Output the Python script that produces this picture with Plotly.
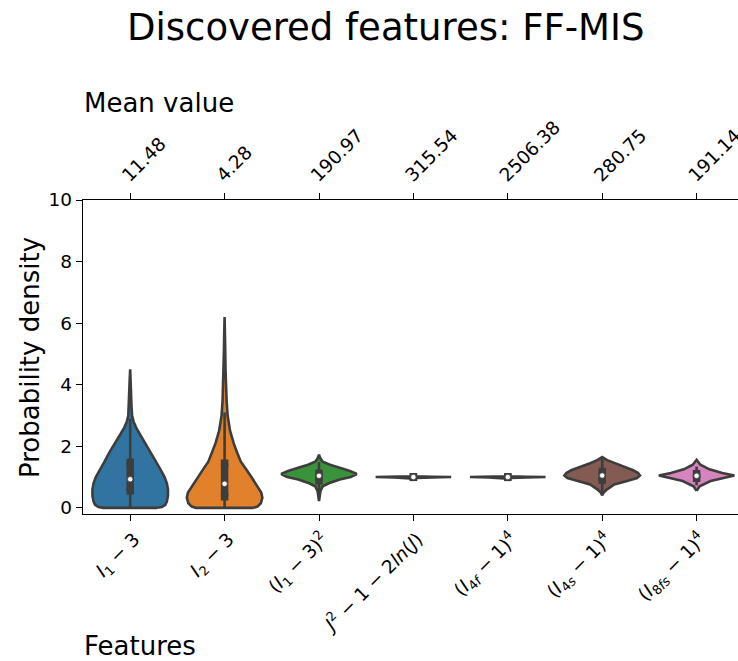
import plotly.graph_objects as go

# ---- data -------------------------------------------------------------
features = [
    "<i>I</i><sub>1</sub> − 3",
    "<i>I</i><sub>2</sub> − 3",
    "(<i>I</i><sub>1</sub> − 3)<sup>2</sup>",
    "<i>J</i><sup>2</sup> − 1 − 2<i>ln</i>(<i>J</i>)",
    "(<i>I</i><sub>4<i>f</i></sub> − 1)<sup>4</sup>",
    "(<i>I</i><sub>4<i>s</i></sub> − 1)<sup>4</sup>",
    "(<i>I</i><sub>8<i>fs</i></sub> − 1)<sup>4</sup>",
]
mean_values = [11.48, 4.28, 190.97, 315.54, 2506.38, 280.75, 191.14]
colors = ["#3274a1", "#e1812c", "#3a923a", "#c03d3e", "#9372b2", "#845b53", "#d684bd"]

# kernel density profiles (value levels, density scaled to 1 at the peak)
i1_levels = [0, 0.03, 0.1, 0.2, 0.4, 0.6, 0.8, 1.0, 1.25, 1.5, 1.8, 2.1, 2.35, 2.6, 2.8, 3.0, 3.3, 3.7, 4.1, 4.5]
i1_density = [0.71, 0.84, 0.93, 0.97, 1.0, 1.0, 0.97, 0.91, 0.80, 0.68, 0.55, 0.41, 0.28, 0.16, 0.09, 0.05, 0.034, 0.024, 0.016, 0]

i2_levels = [0, 0.04, 0.15, 0.33, 0.5, 0.8, 1.0, 1.25, 1.5, 1.8, 2.1, 2.5, 3.0, 3.5, 3.9, 4.5, 5.2, 5.8, 6.2]
i2_density = [0.76, 0.87, 0.96, 1.0, 0.97, 0.82, 0.71, 0.57, 0.43, 0.33, 0.24, 0.145, 0.08, 0.053, 0.037, 0.024, 0.016, 0.008, 0]

i1sq_levels = [0.22, 0.4, 0.55, 0.7, 0.8, 0.92, 1.0, 1.1, 1.2, 1.3, 1.4, 1.5, 1.6, 1.73]
i1sq_density = [0, 0.02, 0.04, 0.1, 0.26, 0.55, 0.84, 1.0, 0.82, 0.55, 0.29, 0.1, 0.04, 0]

j_levels = [0.95, 0.975, 0.99, 1.0, 1.01, 1.025, 1.05]
j_density = [0, 0.08, 0.5, 1.0, 0.5, 0.08, 0]

i4f_levels = [0.95, 0.975, 0.99, 1.0, 1.01, 1.025, 1.05]
i4f_density = [0, 0.08, 0.5, 1.0, 0.5, 0.08, 0]

i4s_levels = [0.4, 0.5, 0.6, 0.76, 0.87, 0.97, 1.05, 1.13, 1.22, 1.30, 1.45, 1.55, 1.65]
i4s_density = [0, 0.04, 0.13, 0.32, 0.66, 0.92, 1.0, 0.95, 0.82, 0.66, 0.32, 0.13, 0]

i8fs_levels = [0.55, 0.7, 0.87, 0.96, 1.05, 1.13, 1.25, 1.4, 1.56]
i8fs_density = [0, 0.08, 0.37, 0.68, 1.0, 0.68, 0.34, 0.1, 0]

# box statistics: q1, median, q3, lower whisker, upper whisker
q1 = [0.55, 0.36, 0.88, 0.99, 0.99, 0.90, 0.96]
median = [0.93, 0.78, 1.04, 1.00, 1.00, 1.05, 1.04]
q3 = [1.48, 1.45, 1.12, 1.01, 1.01, 1.18, 1.11]
whisker_lo = [0.0, 0.0, 0.52, 0.96, 0.96, 0.48, 0.73]
whisker_hi = [2.9, 3.1, 1.48, 1.04, 1.04, 1.6, 1.34]

profiles = [
    (i1_levels, i1_density),
    (i2_levels, i2_density),
    (i1sq_levels, i1sq_density),
    (j_levels, j_density),
    (i4f_levels, i4f_density),
    (i4s_levels, i4s_density),
    (i8fs_levels, i8fs_density),
]

# ---- figure -----------------------------------------------------------
W, H = 738, 661
ML, MR, MT, MB = 83, 0, 200, 147
PW, PH = W - ML - MR, H - MT - MB
GRAY = "#3d3d3d"
FONT = "DejaVu Sans"
HALF = 0.4  # half of the violin width in category units

fig = go.Figure()

for i, (levels, dens) in enumerate(profiles):
    right = [i + HALF * d for d in dens]
    left = [i - HALF * d for d in dens]
    xs = right + left[::-1] + [right[0]]
    ys = levels + levels[::-1] + [levels[0]]
    fig.add_trace(go.Scatter(
        x=xs, y=ys, mode="lines", fill="toself", fillcolor=colors[i],
        line=dict(color=GRAY, width=2.6), hoverinfo="skip", showlegend=False,
    ))
    # whisker
    fig.add_trace(go.Scatter(
        x=[i, i], y=[whisker_lo[i], whisker_hi[i]], mode="lines",
        line=dict(color=GRAY, width=2.6), hoverinfo="skip", showlegend=False,
    ))
    # interquartile box
    fig.add_trace(go.Scatter(
        x=[i, i], y=[q1[i], q3[i]], mode="lines+markers",
        line=dict(color=GRAY, width=7.5),
        marker=dict(symbol="square", size=7.5, color=GRAY, line=dict(width=0)),
        hoverinfo="skip", showlegend=False,
    ))
    # median
    fig.add_trace(go.Scatter(
        x=[i], y=[median[i]], mode="markers",
        marker=dict(symbol="circle", size=5.5, color="white", line=dict(color=GRAY, width=0.8)),
        hoverinfo="skip", showlegend=False,
    ))

# invisible trace to activate the top axis
fig.add_trace(go.Scatter(x=[0], y=[0], xaxis="x2", mode="markers",
                         marker=dict(opacity=0), hoverinfo="skip", showlegend=False))

x_range = [-0.5, -0.5 + PW / 94.4]
tick_font = dict(family=FONT, size=18.5, color="black")

fig.update_layout(
    width=W, height=H,
    margin=dict(l=ML, r=MR, t=MT, b=MB, pad=0, autoexpand=False),
    paper_bgcolor="white", plot_bgcolor="white",
    xaxis=dict(
        range=x_range, tickmode="array", tickvals=list(range(len(features))),
        ticktext=features, tickangle=-45, tickfont=tick_font,
        showline=True, linecolor="black", linewidth=1.3, mirror=False,
        ticks="outside", ticklen=6, tickwidth=1.3, tickcolor="black",
        showgrid=False, zeroline=False, ticklabelshift=4, automargin=False,
    ),
    xaxis2=dict(
        overlaying="x", side="top", range=x_range, tickmode="array",
        tickvals=list(range(len(features))),
        ticktext=[f"{v:.2f}" for v in mean_values], tickangle=-45, tickfont=tick_font,
        showline=True, linecolor="black", linewidth=1.3,
        ticks="outside", ticklen=6, tickwidth=1.3, tickcolor="black",
        showgrid=False, zeroline=False, ticklabeloverflow="allow",
        ticklabelshift=-7, automargin=False,
    ),
    yaxis=dict(
        range=[-0.2, 10], tickmode="array", tickvals=[0, 2, 4, 6, 8, 10],
        tickfont=tick_font, showline=True, linecolor="black", linewidth=1.3,
        ticks="outside", ticklen=6, tickwidth=1.3, tickcolor="black",
        showgrid=False, zeroline=False, automargin=False,
    ),
)


def px_x(px):
    return (px - ML) / PW


def px_y(py):
    return (H - MB - py) / PH


annotations = [
    dict(text="Discovered features: FF-MIS", x=px_x(385), y=px_y(28),
         xanchor="center", yanchor="middle", font=dict(family=FONT, size=37, color="black")),
    dict(text="Mean value", x=px_x(83), y=px_y(103),
         xanchor="left", yanchor="middle", font=dict(family=FONT, size=26, color="black")),
    dict(text="Features", x=px_x(83), y=px_y(646),
         xanchor="left", yanchor="middle", font=dict(family=FONT, size=26, color="black")),
    dict(text="Probability density", x=px_x(30), y=px_y(358), textangle=-90,
         xanchor="center", yanchor="middle", font=dict(family=FONT, size=26, color="black")),
]
for a in annotations:
    a.update(xref="paper", yref="paper", showarrow=False, borderpad=0)
fig.update_layout(annotations=annotations)

fig.write_html("out.html")
